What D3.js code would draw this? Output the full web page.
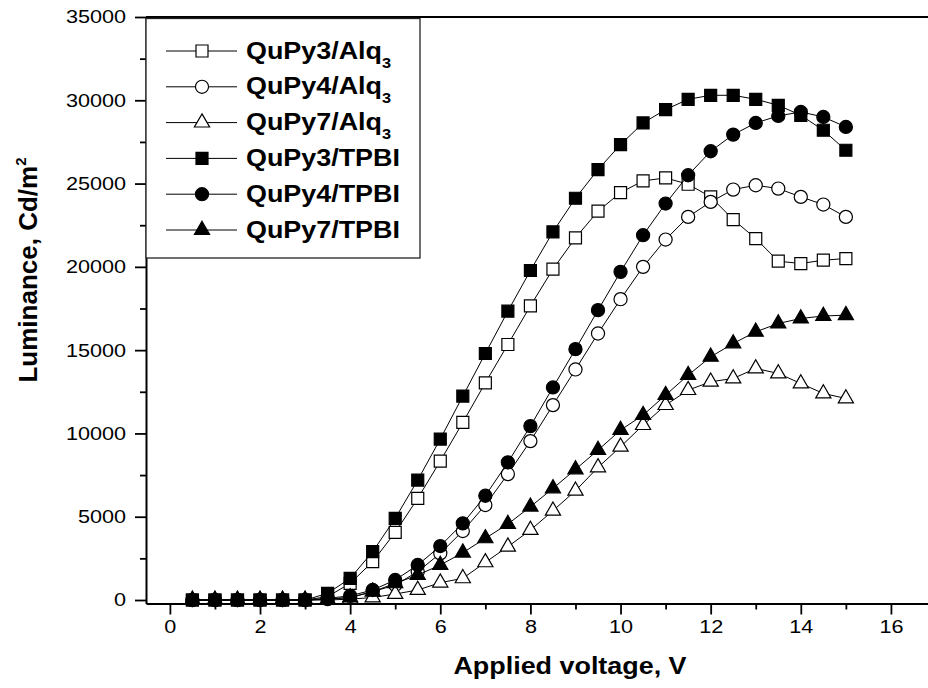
<!DOCTYPE html>
<html>
<head>
<meta charset="utf-8">
<script src="https://cdn.jsdelivr.net/npm/d3@7"></script>
<style>
  body { margin: 0; background: #fff; }
  svg { display: block; font-family: "Liberation Sans", Arial, sans-serif; }
</style>
</head>
<body>
<svg id="chart" width="928" height="688"></svg>
<script>
const voltage = [0.5, 1, 1.5, 2, 2.5, 3, 3.5, 4, 4.5, 5, 5.5, 6, 6.5, 7, 7.5, 8, 8.5, 9, 9.5, 10, 10.5, 11, 11.5, 12, 12.5, 13, 13.5, 14, 14.5, 15]

const quPy3Alq = [0, 0, 0, 0, 0, 0, 200, 1000, 2300, 4060, 6100, 8340, 10660, 13040, 15340, 17660, 19860, 21740, 23340, 24460, 25160, 25340, 24960, 24200, 22840, 21700, 20340, 20200, 20400, 20500]
const quPy4Alq = [0, 0, 0, 0, 0, 0, 50, 150, 500, 900, 1700, 2800, 4140, 5700, 7560, 9540, 11700, 13840, 16000, 18060, 20000, 21640, 23000, 23900, 24640, 24900, 24700, 24200, 23740, 23000]
const quPy7Alq = [0, 0, 0, 0, 0, 0, 0, 50, 150, 360, 600, 1040, 1300, 2260, 3200, 4200, 5360, 6560, 7960, 9200, 10500, 11700, 12600, 13100, 13300, 13900, 13600, 13000, 12400, 12100]
const quPy3Tpbi = [0, 0, 0, 0, 0, 0, 400, 1300, 2900, 4900, 7200, 9660, 12240, 14800, 17340, 19780, 22100, 24120, 25840, 27340, 28640, 29440, 30060, 30300, 30300, 30060, 29700, 29100, 28200, 27000]
const quPy4Tpbi = [0, 0, 0, 0, 0, 0, 100, 250, 600, 1200, 2100, 3240, 4600, 6260, 8260, 10440, 12760, 15060, 17400, 19700, 21900, 23800, 25500, 26940, 27940, 28640, 29060, 29300, 29000, 28400]
const quPy7Tpbi = [0, 0, 0, 0, 0, 0, 50, 150, 500, 1000, 1500, 2100, 2840, 3700, 4560, 5600, 6700, 7840, 9000, 10200, 11100, 12300, 13500, 14600, 15400, 16100, 16600, 16900, 17050, 17100]

const xTicks = [0, 2, 4, 6, 8, 10, 12, 14, 16]
const yTicks = [0, 5000, 10000, 15000, 20000, 25000, 30000, 35000]

const series = [
    { name: 'QuPy3/', sub: 'Alq', subNum: '3', values: quPy3Alq, shape: d3.symbolSquare, size: 144, filled: false },
    { name: 'QuPy4/', sub: 'Alq', subNum: '3', values: quPy4Alq, shape: d3.symbolCircle, size: 135, filled: false },
    { name: 'QuPy7/', sub: 'Alq', subNum: '3', values: quPy7Alq, shape: d3.symbolTriangle, size: 100, filled: false },
    { name: 'QuPy3/TPBI', values: quPy3Tpbi, shape: d3.symbolSquare, size: 144, filled: true },
    { name: 'QuPy4/TPBI', values: quPy4Tpbi, shape: d3.symbolCircle, size: 135, filled: true },
    { name: 'QuPy7/TPBI', values: quPy7Tpbi, shape: d3.symbolTriangle, size: 100, filled: true }
]

// the source picture is a bit wider than tall, text looks stretched
const stretch = 1.17

const svg = d3.select('#chart')

const x = d3.scaleLinear().domain([ -0.53, 17 ]).range([ 146, 936 ])
const y = d3.scaleLinear().domain([ -210, 35000 ]).range([ 603.5, 17 ])

// axes
const gx = svg.append('g').attr('transform', `translate(0, ${y.range()[0]})`)
gx.call( d3.axisBottom(x).tickValues(xTicks).tickSize(11).tickSizeOuter(0).tickPadding(5) )
gx.append('g').call( d3.axisBottom(x).tickValues(d3.range(1, 17, 2)).tickSize(6).tickFormat('') )
    .select('.domain').remove()

const gy = svg.append('g').attr('transform', `translate(${x.range()[0]}, 0)`)
gy.call( d3.axisLeft(y).tickValues(yTicks).tickFormat(d3.format('d')).tickSize(11).tickSizeOuter(0).tickPadding(6) )
gy.append('g').call( d3.axisLeft(y).tickValues(d3.range(2500, 35000, 5000)).tickSize(6).tickFormat('') )
    .select('.domain').remove()

svg.selectAll('.domain').attr('stroke', '#000').attr('stroke-width', 2)
svg.selectAll('.tick line').attr('stroke', '#000').attr('stroke-width', 1.8)
svg.selectAll('.tick text').attr('font-size', 18.5).attr('fill', '#000')
    .attr('font-family', '"Liberation Sans", Arial, sans-serif')
    .attr('transform', `scale(${stretch}, 1)`)

// top frame
svg.append('line')
    .attr('x1', x.range()[0]).attr('x2', x.range()[1])
    .attr('y1', y(35000)).attr('y2', y(35000))
    .attr('stroke', '#000').attr('stroke-width', 2)

// series
const line = d3.line().x( (d, i) => x(voltage[i]) ).y( d => y(d) )

series.forEach( s => {
    const g = svg.append('g')
    g.append('path')
        .attr('d', line(s.values))
        .attr('fill', 'none')
        .attr('stroke', '#000')
        .attr('stroke-width', 1)
    g.selectAll('path.pt')
        .data(s.values)
        .join('path')
        .attr('class', 'pt')
        .attr('transform', (d, i) => `translate(${x(voltage[i])}, ${y(d)})`)
        .attr('d', d3.symbol(s.shape, s.size))
        .attr('fill', s.filled ? '#000' : '#fff')
        .attr('stroke', '#000')
        .attr('stroke-width', 1.2)
} )

// legend
const legend = svg.append('g')
legend.append('rect')
    .attr('x', 146).attr('y', 18.5)
    .attr('width', 274).attr('height', 239.5)
    .attr('fill', '#fff')
    .attr('stroke', '#222')
    .attr('stroke-width', 1.3)

series.forEach( (s, i) => {
    const cy = 51 + i * 35.8
    const row = legend.append('g').attr('transform', `translate(0, ${cy})`)
    row.append('line')
        .attr('x1', 166).attr('x2', 237)
        .attr('stroke', '#000').attr('stroke-width', 1)
    row.append('path')
        .attr('transform', 'translate(202, 0)')
        .attr('d', d3.symbol(s.shape, s.size)())
        .attr('fill', s.filled ? '#000' : '#fff')
        .attr('stroke', '#000')
        .attr('stroke-width', 1.2)
    const t = row.append('text')
        .attr('transform', `translate(246, 7.5) scale(${stretch}, 1)`)
        .attr('font-size', 23).attr('font-weight', 'bold')
    t.append('tspan').text(s.name + (s.sub || ''))
    if( s.subNum ) t.append('tspan').attr('dy', 9).attr('font-size', 14).text(s.subNum)
} )

// axis titles
svg.append('text')
    .attr('transform', `translate(570, 674) scale(${stretch}, 1)`)
    .attr('text-anchor', 'middle')
    .attr('font-size', 23).attr('font-weight', 'bold')
    .text('Applied voltage, V')

const yt = svg.append('text')
    .attr('transform', 'translate(37, 270) rotate(-90)')
    .attr('text-anchor', 'middle')
    .attr('font-size', 26).attr('font-weight', 'bold')
yt.append('tspan').text('Luminance, Cd/m')
yt.append('tspan').attr('dy', -11).attr('font-size', 15).text('2')
</script>
</body>
</html>
